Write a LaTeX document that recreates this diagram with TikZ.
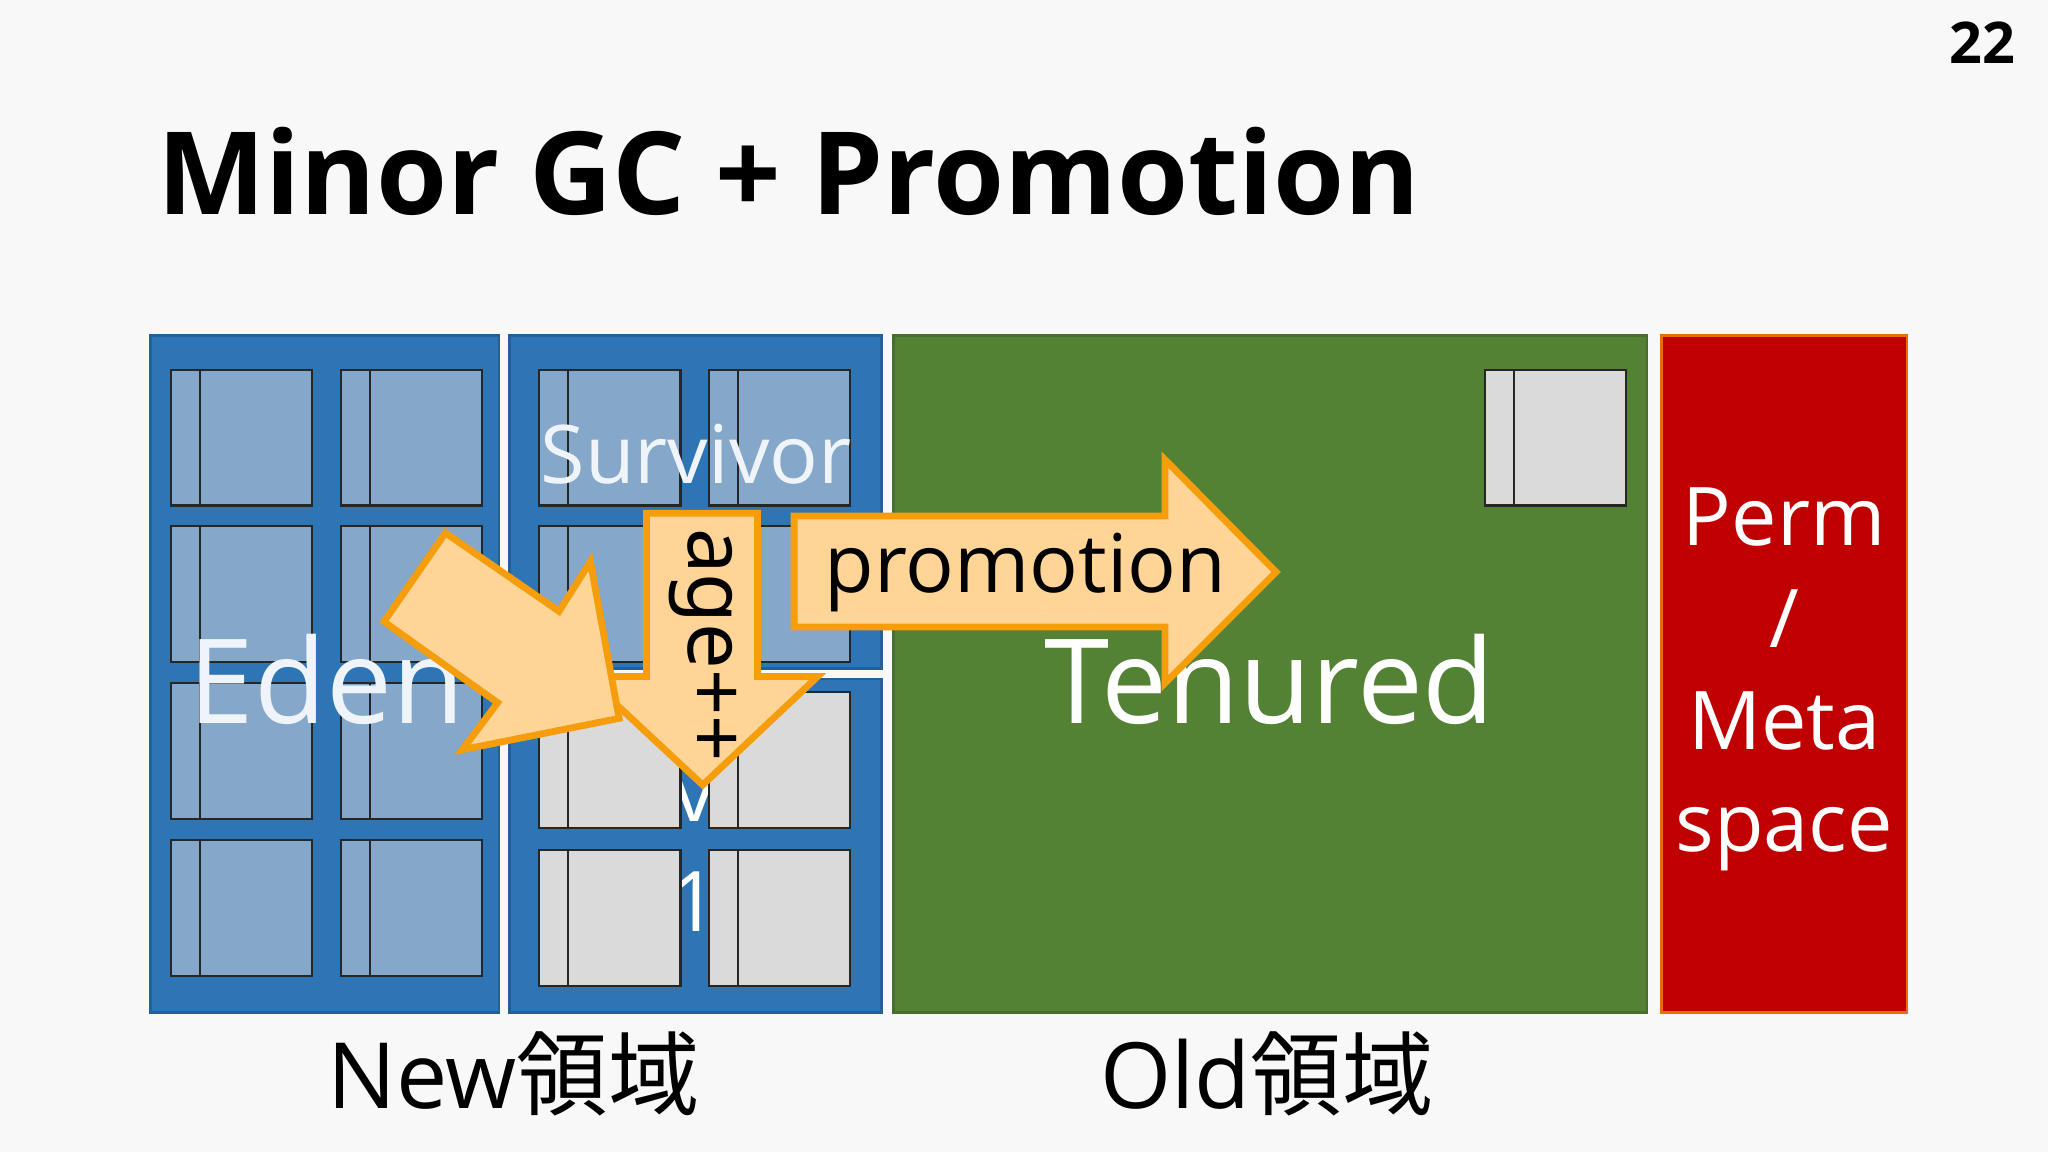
\documentclass[tikz,border=0pt]{standalone}
\usepackage{fontspec}
\setmainfont{Open Sans}
\newfontfamily\cjk{Noto Sans CJK JP}
\newfontfamily\noto{Noto Sans}
\definecolor{bg}{HTML}{F8F8F8}
\definecolor{blu}{HTML}{2E75B6}
\definecolor{bluedge}{HTML}{23609A}
\definecolor{cellb}{HTML}{85A7C9}
\definecolor{cellg}{HTML}{DADADA}
\definecolor{grn}{HTML}{548235}
\definecolor{redd}{HTML}{C00000}
\definecolor{aro}{HTML}{FFD497}
\definecolor{arl}{HTML}{F59D0A}
\tikzset{x=0.5pt,y=-0.5pt,
 area/.style={line width=1pt},
 cell/.style={draw=black!85,line width=0.8pt},
 bigarrow/.style={fill=aro,draw=arl,line width=2.6pt,line join=miter},
 wt/.style={text=white,inner sep=0pt},
}
\newcommand{\mkcell}[3]{% x y fill
 \draw[cell,fill=#3] (#1,#2) rectangle ++(108,104);
 \draw[cell] (#1+22,#2) -- ++(0,104);}
\begin{document}
\begin{tikzpicture}
\fill[bg] (0,0) rectangle (1568,882);
\useasboundingbox (0,0) rectangle (1568,882);
\node[anchor=east,font=\bfseries\fontsize{22}{26}\selectfont,inner sep=0pt] (pg) at (1543,33) {22};
\node[anchor=west,font=\bfseries\fontsize{44}{50}\selectfont,inner sep=0pt] (title) at (120,131) {Minor GC + Promotion};
% areas
\draw[area,fill=blu,draw=bluedge] (115,257) rectangle (382,775);
\draw[area,fill=blu,draw=bluedge] (390,257) rectangle (675,512);
\draw[area,fill=blu,draw=bluedge] (390,520) rectangle (675,775);
\draw[area,fill=grn,draw=grn!85!black] (684,257) rectangle (1261,775);
\draw[area,fill=redd,draw=arl!70!redd] (1272,257) rectangle (1460,775);
% hidden texts
\node[wt,font=\fontsize{32}{36}\selectfont] (v) at (532,612) {v};
\node[wt,font=\fontsize{32}{36}\selectfont] (one) at (532,690) {1};
% cells
\foreach \x in {131,261} \foreach \y in {283,403,523,643} {\mkcell{\x}{\y}{cellb}}
\foreach \x in {413,543} \foreach \y in {283,403} {\mkcell{\x}{\y}{cellb}}
\foreach \x in {413,543} \foreach \y in {530,651} {\mkcell{\x}{\y}{cellg}}
\mkcell{1137}{283}{cellg}
% labels
\node[text=white!92!blu,inner sep=0pt,font=\fontsize{45}{50}\selectfont] (eden) at (250,520) {Eden};
\node[text=white!92!blu,inner sep=0pt,font=\fontsize{31}{36}\selectfont] (surv) at (533,348) {Survivor};
\node[wt,font=\fontsize{45}{50}\selectfont] (ten) at (972,520) {Tenured};
\node[wt,align=center,font=\fontsize{31}{39}\selectfont] (perm) at (1366,520) {Perm\\/\\Meta\\space};
\node[font=\fontsize{35}{40}\selectfont,inner sep=0pt] (new) at (393,822) {New{\cjk 領域}};
\node[font=\fontsize{35}{40}\selectfont,inner sep=0pt] (old) at (970,822) {Old{\cjk 領域}};
% arrows
\draw[bigarrow] (495,393) -- (580,393) -- (580,518) -- (626,518) -- (538,601) -- (449,518) -- (495,518) -- cycle;
\node[rotate=-90,font=\noto\fontsize{31}{36}\selectfont,inner sep=0pt] (age) at (538,494) {age++};
\draw[bigarrow] (341,408) -- (428,468) -- (452,430) -- (474,550) -- (354,574) -- (381,538) -- (294,476) -- cycle;
\draw[bigarrow] (608,395) -- (892,395) -- (892,352) -- (977,438) -- (892,523) -- (892,480) -- (608,480) -- cycle;
\node[font=\fontsize{31}{36}\selectfont,inner sep=0pt] (promo) at (785,438) {promotion};
\end{tikzpicture}
\end{document}
